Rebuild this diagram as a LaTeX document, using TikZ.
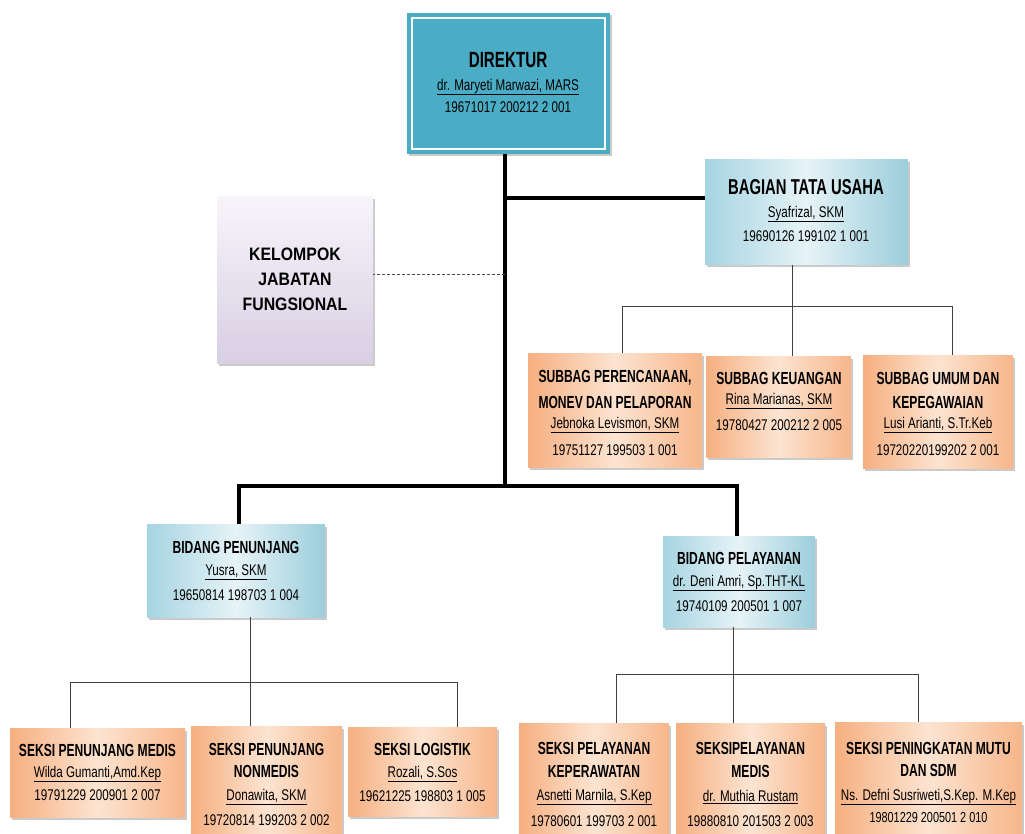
\documentclass[tikz,border=0pt]{standalone}
\usepackage{fontspec}
\setmainfont{Liberation Sans}
\newfontfamily\tfont[FakeStretch=0.69]{Liberation Sans}
\newfontfamily\rfont[FakeStretch=0.75]{Liberation Sans}
\newfontfamily\kfont[FakeStretch=0.88]{Liberation Sans}
\usetikzlibrary{shadows}
\definecolor{dirc}{HTML}{4BACC6}
\definecolor{blL}{HTML}{A6D4E1}
\definecolor{blM}{HTML}{E6F3F7}
\definecolor{blR}{HTML}{9CCEDC}
\definecolor{orL}{HTML}{F6AF80}
\definecolor{orM}{HTML}{FCE4D1}
\definecolor{orR}{HTML}{F7B68A}
\definecolor{puT}{HTML}{F7F4FA}
\definecolor{puB}{HTML}{D8CFE3}
\tikzset{
  boxbase/.style={draw=none, inner sep=0pt,
    drop shadow={shadow xshift=2pt, shadow yshift=-2.5pt, opacity=0.35, fill=black!60}},
  bluebox/.style={boxbase, left color=blL, right color=blR, middle color=blM},
  orbox/.style={boxbase, left color=orL, right color=orR, middle color=orM},
  pubox/.style={boxbase, top color=puT, bottom color=puB},
  dirbox/.style={boxbase, fill=dirc},
  ttl/.style={inner sep=0pt, font=\tfont\bfseries\fontsize{17.5}{20}\selectfont},
  nm/.style={inner sep=0pt, font=\rfont\fontsize{15.5}{18}\selectfont},
  thickline/.style={line width=3.5pt, black, line join=miter},
  thinline/.style={line width=1pt, black!75},
  dashline/.style={line width=1pt, black!70, dash pattern=on 3pt off 2pt},
}
\begin{document}
\begin{tikzpicture}[x=1pt, y=-1pt]
\useasboundingbox (0,0) rectangle (1025,834);

% ---------- boxes ----------
\node[dirbox, minimum width=203pt, minimum height=141pt] (dir) at (508.5,83.5) {};
\draw[white, line width=2.5pt] ([shift={(5,5)}]dir.north west) rectangle ([shift={(-5,-5)}]dir.south east);
\node[bluebox, minimum width=203pt, minimum height=105pt] (btu) at (806.5,212.5) {};
\node[pubox, minimum width=156pt, minimum height=166pt] (kjf) at (295,280) {};

\node[orbox, minimum width=174pt, minimum height=114pt] (s1) at (615,410) {};
\node[orbox, minimum width=145pt, minimum height=101pt] (s2) at (778.5,406.5) {};
\node[orbox, minimum width=150pt, minimum height=113pt] (s3) at (938,411.5) {};

\node[bluebox, minimum width=178pt, minimum height=93pt] (bpn) at (236,570.5) {};
\node[bluebox, minimum width=152pt, minimum height=91pt] (bpl) at (739,581.5) {};

\node[orbox, minimum width=175pt, minimum height=89pt] (l1) at (97.5,772.5) {};
\node[orbox, minimum width=151pt, minimum height=119pt] (l2) at (266.5,785.5) {};
\node[orbox, minimum width=149pt, minimum height=89pt] (l3) at (422.5,771.5) {};
\node[orbox, minimum width=150pt, minimum height=122pt] (r1) at (594,784) {};
\node[orbox, minimum width=149pt, minimum height=122pt] (r2) at (750.5,784) {};
\node[orbox, minimum width=187pt, minimum height=123pt] (r3) at (928.5,783.5) {};

% ---------- connectors ----------
\coordinate (tb) at (505,198);
\coordinate (tk) at (505,275);
\coordinate (tm) at (505,486);
\coordinate (mL) at (239,486);
\coordinate (mR) at (737,486);
\draw[thickline] (tm |- dir.south) -- (tm);
\draw[thickline] (tb) -- (tb -| btu.west);
\draw[dashline] (tk) -- (tk -| kjf.east);
\draw[thickline] (mL |- bpn.north) -- (mL) -- (mR) -- (mR |- bpl.north);

\coordinate (u0) at (792,306);
\coordinate (u1) at (622,306);
\coordinate (u3) at (952,306);
\draw[thinline] (u0 |- btu.south) -- (u0 |- s2.north);
\draw[thinline] (u1 |- s1.north) -- (u1) -- (u3) -- (u3 |- s3.north);

\coordinate (p0) at (250,682);
\coordinate (p1) at (70,682);
\coordinate (p3) at (457,682);
\draw[thinline] (p0 |- bpn.south) -- (p0 |- l2.north);
\draw[thinline] (p1 |- l1.north) -- (p1) -- (p3) -- (p3 |- l3.north);

\coordinate (q0) at (733,674);
\coordinate (q1) at (616,674);
\coordinate (q3) at (918,674);
\draw[thinline] (q0 |- bpl.south) -- (q0 |- r2.north);
\draw[thinline] (q1 |- r1.north) -- (q1) -- (q3) -- (q3 |- r3.north);

% ---------- texts ----------
\node[ttl, font=\tfont\bfseries\fontsize{22}{24}\selectfont] (dirT) at (508,60) {DIREKTUR};
\node[nm] (dirN) at (508,87) {\underline{dr. Maryeti Marwazi, MARS}};
\node[nm] (dirP) at (508,107) {19671017 200212 2 001};

\node[ttl, font=\tfont\bfseries\fontsize{21.5}{24}\selectfont] (btuT) at (806,187) {BAGIAN TATA USAHA};
\node[nm] (btuN) at (806,214) {\underline{Syafrizal, SKM}};
\node[nm] (btuP) at (806,236) {19690126 199102 1 001};

\node[inner sep=0pt, font=\kfont\bfseries\fontsize{18}{20}\selectfont] (kjf1) at (295,254) {KELOMPOK};
\node[inner sep=0pt, font=\kfont\bfseries\fontsize{18}{20}\selectfont] (kjf2) at (295,279) {JABATAN};
\node[inner sep=0pt, font=\kfont\bfseries\fontsize{18}{20}\selectfont] (kjf3) at (295,304) {FUNGSIONAL};

\node[ttl] (s1a) at (615,378) {SUBBAG PERENCANAAN,};
\node[ttl] (s1b) at (615,402) {MONEV DAN PELAPORAN};
\node[nm] (s1n) at (615,425) {\underline{Jebnoka Levismon, SKM}};
\node[nm] (s1p) at (615,450) {19751127 199503 1 001};

\node[ttl] (s2a) at (779,378) {SUBBAG KEUANGAN};
\node[nm] (s2n) at (779,401) {\underline{Rina Marianas, SKM}};
\node[nm] (s2p) at (779,425) {19780427 200212 2 005};

\node[ttl] (s3a) at (938,378) {SUBBAG UMUM DAN};
\node[ttl] (s3b) at (938,402) {KEPEGAWAIAN};
\node[nm] (s3n) at (938,425) {\underline{Lusi Arianti, S.Tr.Keb}};
\node[nm] (s3p) at (938,450) {19720220199202 2 001};

\node[ttl] (bpnT) at (236,547) {BIDANG PENUNJANG};
\node[nm] (bpnN) at (236,572) {\underline{Yusra, SKM}};
\node[nm] (bpnP) at (236,595) {19650814 198703 1 004};

\node[ttl] (bplT) at (739,558) {BIDANG PELAYANAN};
\node[nm] (bplN) at (739,583) {\underline{dr. Deni Amri, Sp.THT-KL}};
\node[nm] (bplP) at (739,606) {19740109 200501 1 007};

\node[ttl] (l1a) at (97.5,750) {SEKSI PENUNJANG MEDIS};
\node[nm] (l1n) at (97.5,774) {\underline{Wilda Gumanti,Amd.Kep}};
\node[nm] (l1p) at (97.5,795) {19791229 200901 2 007};

\node[ttl] (l2a) at (266.5,749) {SEKSI PENUNJANG};
\node[ttl] (l2b) at (266.5,771) {NONMEDIS};
\node[nm] (l2n) at (266.5,797) {\underline{Donawita, SKM}};
\node[nm] (l2p) at (266.5,820) {19720814 199203 2 002};

\node[ttl] (l3a) at (422.5,749) {SEKSI LOGISTIK};
\node[nm] (l3n) at (422.5,774) {\underline{Rozali, S.Sos}};
\node[nm] (l3p) at (422.5,796) {19621225 198803 1 005};

\node[ttl] (r1a) at (594,748) {SEKSI PELAYANAN};
\node[ttl] (r1b) at (594,771) {KEPERAWATAN};
\node[nm] (r1n) at (594,797) {\underline{Asnetti Marnila, S.Kep}};
\node[nm] (r1p) at (594,821) {19780601 199703 2 001};

\node[ttl] (r2a) at (750.5,748) {SEKSIPELAYANAN};
\node[ttl] (r2b) at (750.5,771) {MEDIS};
\node[nm] (r2n) at (750.5,797) {\underline{dr. Muthia Rustam}};
\node[nm] (r2p) at (750.5,821) {19880810 201503 2 003};

\node[ttl] (r3a) at (928.5,748) {SEKSI PENINGKATAN MUTU};
\node[ttl] (r3b) at (928.5,770) {DAN SDM};
\node[nm] (r3n) at (928.5,797) {\underline{Ns. Defni Susriweti,S.Kep. M.Kep}};
\node[nm, font=\rfont\fontsize{14.5}{16}\selectfont] (r3p) at (928.5,818) {19801229 200501 2 010};
\end{tikzpicture}
\end{document}
